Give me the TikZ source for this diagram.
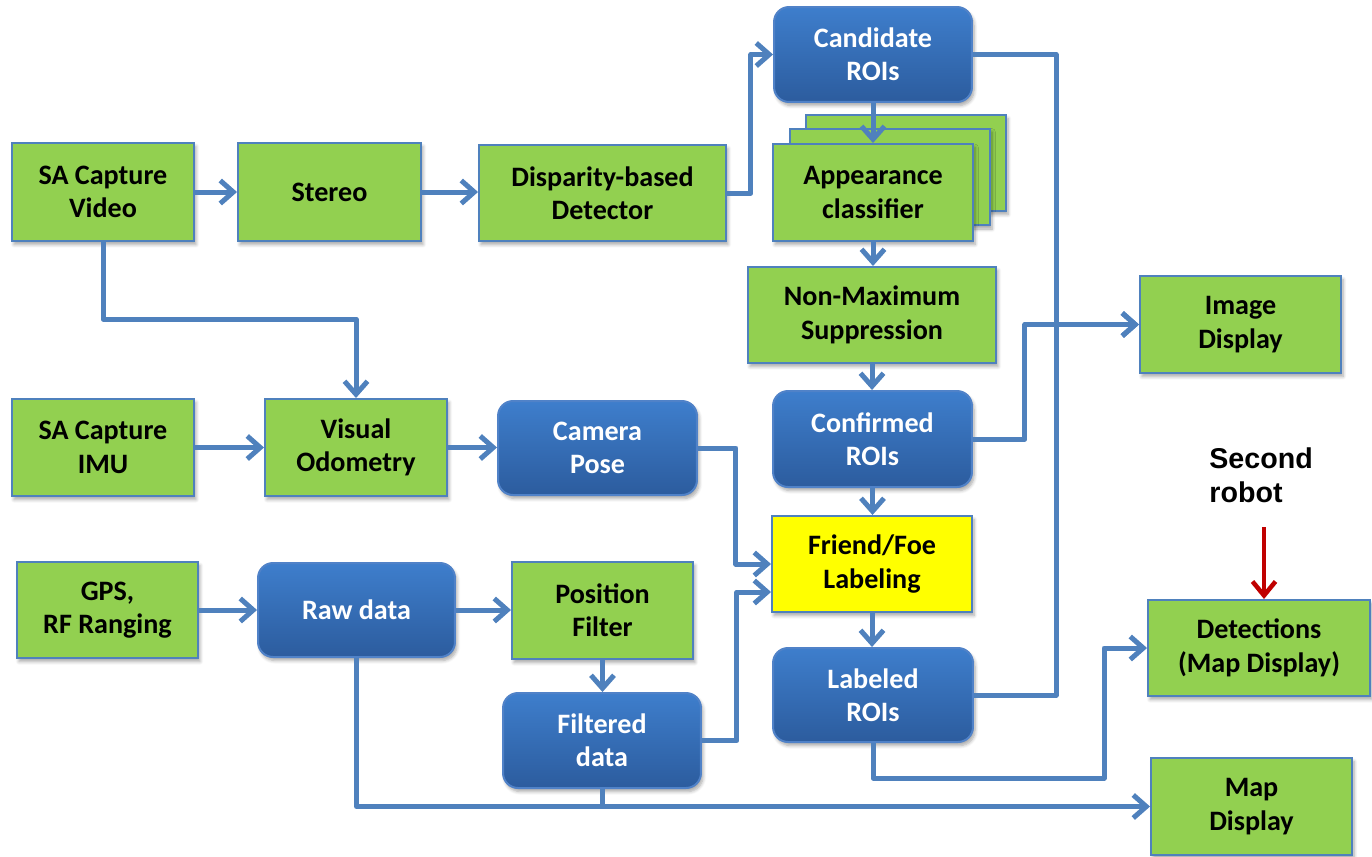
\documentclass[tikz,border=0pt]{standalone}
\usepackage{fontspec}
\setmainfont{Carlito}
\newfontfamily\arialf{Liberation Sans}
\usetikzlibrary{arrows.meta,shadows.blur,calc}
\definecolor{gfill}{HTML}{92D050}
\definecolor{lblue}{HTML}{4F81BD}
\definecolor{btop}{RGB}{62,126,204}
\definecolor{bbot}{RGB}{44,92,158}
\definecolor{bdraw}{RGB}{80,130,200}
\definecolor{darkred}{RGB}{192,0,0}
\definecolor{yel}{HTML}{FFFF00}
\begin{document}
\begin{tikzpicture}[x=0.02cm,y=-0.02cm,
  boxbase/.style={align=center, font=\fontsize{16}{19}\selectfont\bfseries, inner sep=0pt,
    blur shadow={shadow xshift=0.04cm, shadow yshift=-0.07cm, shadow opacity=35, shadow blur steps=6}},
  gbox/.style={boxbase, rectangle, fill=gfill, draw=lblue, line width=0.04cm},
  ybox/.style={gbox, fill=yel},
  bbox/.style={boxbase, rectangle, rounded corners=0.3cm, top color=btop, bottom color=bbot, draw=bdraw, line width=0.04cm, text=white},
  conn/.style={draw=lblue, line width=0.1cm, line join=round},
  arr/.style={conn, -{Straight Barb[length=0.26cm,width=0.46cm]}},
]
\useasboundingbox (0,0) rectangle (1372,856);

% nodes
\node[gbox, minimum width=3.64cm, minimum height=1.96cm] (video) at (103,192) {SA Capture\\Video};
\node[gbox, minimum width=3.66cm, minimum height=1.96cm] (stereo) at (329.5,192) {Stereo};
\node[gbox, minimum width=4.94cm, minimum height=1.92cm] (disp) at (602.5,193) {Disparity-based\\Detector};
\node[bbox, minimum width=3.96cm, minimum height=1.90cm] (cand) at (873,54.5) {Candidate\\ROIs};
\node[gbox, minimum width=4.0cm, minimum height=1.92cm] (app3) at (906,163) {};
\node[gbox, minimum width=4.0cm, minimum height=1.94cm] (app2) at (890,177) {};
\node[gbox, minimum width=4.0cm, minimum height=1.94cm] (app) at (873,192.5) {Appearance\\classifier};
\node[gbox, minimum width=4.96cm, minimum height=1.92cm] (nms) at (872,315) {Non-Maximum\\Suppression};
\node[bbox, minimum width=3.98cm, minimum height=1.92cm] (conf) at (872.5,439) {Confirmed\\ROIs};
\node[ybox, minimum width=4.0cm, minimum height=1.92cm] (ff) at (872,564) {Friend/Foe\\Labeling};
\node[bbox, minimum width=4.0cm, minimum height=1.88cm] (lab) at (873,695) {Labeled\\ROIs};
\node[gbox, minimum width=4.02cm, minimum height=1.94cm] (img) at (1240.5,324.5) {Image\\Display};
\node[gbox, minimum width=4.44cm, minimum height=1.92cm] (det) at (1259,648) {Detections\\(Map Display)};
\node[gbox, minimum width=4.02cm, minimum height=1.94cm] (map) at (1251.5,806.5) {Map\\Display};
\node[gbox, minimum width=3.64cm, minimum height=1.94cm] (imu) at (103,447.5) {SA Capture\\IMU};
\node[gbox, minimum width=3.64cm, minimum height=1.94cm] (vo) at (356,447.5) {Visual\\Odometry};
\node[bbox, minimum width=3.98cm, minimum height=1.88cm] (cam) at (597.5,448) {Camera\\Pose};
\node[gbox, minimum width=3.62cm, minimum height=1.92cm] (gps) at (107.5,610) {GPS,\\RF Ranging};
\node[bbox, minimum width=3.94cm, minimum height=1.88cm] (raw) at (356.5,610) {Raw data};
\node[gbox, minimum width=3.62cm, minimum height=1.94cm] (pos) at (602.5,610.5) {Position\\Filter};
\node[bbox, minimum width=3.96cm, minimum height=1.90cm] (filt) at (602,740.5) {Filtered\\data};

\node[anchor=north west, align=left, inner sep=0pt, font=\arialf\fontsize{16.3}{19.8}\selectfont\bfseries] (sr) at (1209,447) {Second\\robot};

% connectors
\draw[arr] (video) -- (stereo);
\draw[arr] (stereo.east) -- (stereo.east -| disp.west);
\draw[arr] (disp.east) -- ++(24,0) |- (cand.west);
\draw[arr] (cand.south) -- (app.north);
\draw[arr] (app.south) -- (app.south |- nms.north);
\draw[arr] (nms.south) -- (nms.south |- conf.north);
\draw[arr] (conf.south) -- (conf.south |- ff.north);
\draw[arr] (ff.south) -- (ff.south |- lab.north);
\coordinate (bus) at (1056,0);
\draw[conn] (cand.east) -| (bus |- lab.east) -- (lab.east);
\draw[arr] (conf.east) -- ++(52,0) |- (img.west);
\draw[arr] (bus |- img.west) -- (img.west);
\coordinate (vbend) at (103,319);
\draw[arr] (video.south) -- (vbend) -| (vo.north);
\draw[arr] (imu) -- (vo);
\draw[arr] (vo.east) -- (vo.east -| cam.west);
\draw[arr] (cam.east) -- ++(38,0) |- (ff.west);
\draw[arr] (filt.east) -- ++(35,0) |- ($(ff.west)+(0,28)$);
\draw[arr] (gps.east) -- (gps.east -| raw.west);
\draw[arr] (raw.east) -- (raw.east -| pos.west);
\draw[arr] (pos.south) -- (pos.south |- filt.north);
\draw[arr] (raw.south) |- (map.west);
\draw[conn] (filt.south) -- (filt.south |- map.west);
\coordinate (dbend) at (1104,778);
\draw[arr] (lab.south) |- (dbend) |- (det.west);
\coordinate (rtop) at (1264,527);
\draw[draw=darkred, line width=0.09cm, -{Straight Barb[length=0.28cm,width=0.46cm]}] (rtop) -- (rtop |- det.north);
\end{tikzpicture}
\end{document}
